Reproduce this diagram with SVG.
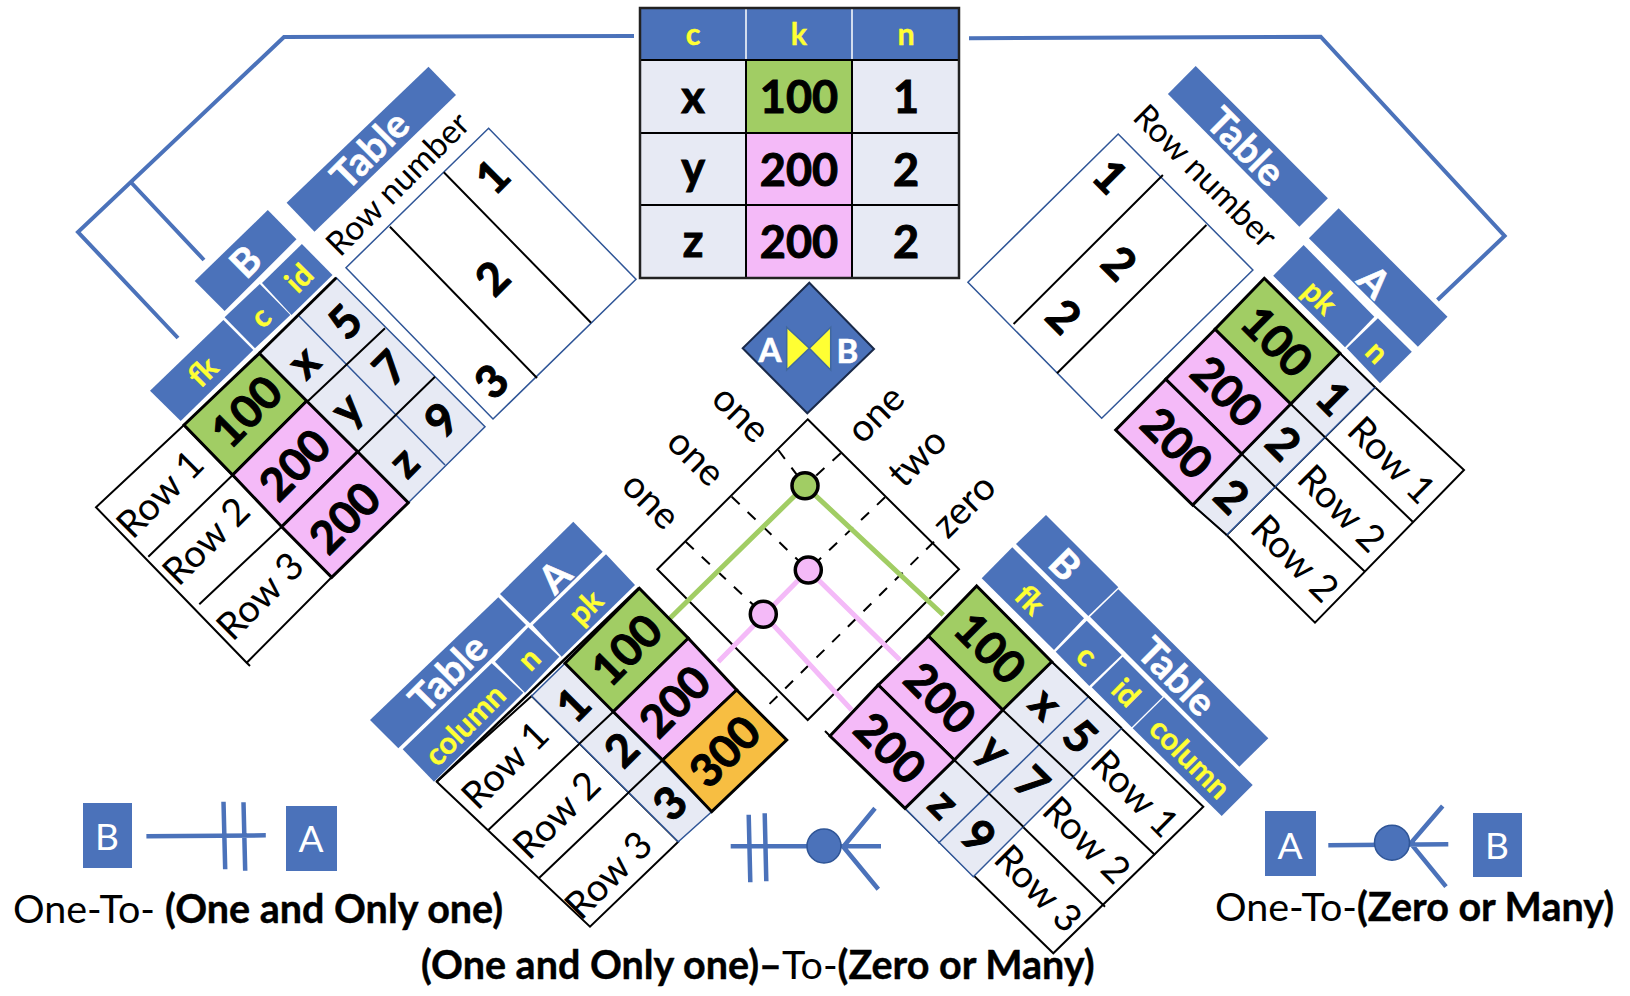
<svg xmlns="http://www.w3.org/2000/svg" width="1630" height="996" viewBox="0 0 1630 996">
<style>
text{font-family:"Lato","Open Sans","Liberation Sans",sans-serif;text-anchor:middle}
.v{font-size:45px;font-weight:700;fill:#000;stroke:#000;stroke-width:1px}
.r{font-size:38px;fill:#000}
.rn{font-size:33.500px;fill:#000}
.o{font-size:38px;fill:#000}
.h{font-size:39px;font-weight:700;fill:#fff;stroke:#fff;stroke-width:.6px}
.y{font-size:30.500px;font-weight:700;fill:#ffff33;stroke:#ffff33;stroke-width:.4px}
.t{font-size:39.500px;fill:#000;text-anchor:start}
.b{font-weight:700;stroke:#000;stroke-width:.4px}
.w{font-size:37px;fill:#fff}
.wt{fill:#fff;stroke:#000;stroke-width:2}
.wb{fill:#fff;stroke:#2f5597;stroke-width:1.5}
.lt{fill:#e7eaf4;stroke:#2f5597;stroke-width:1.5}
.gr{fill:#a1cd64;stroke:#000;stroke-width:3}
.pk{fill:#f4baf8;stroke:#000;stroke-width:3}
.or{fill:#f7be42;stroke:#000;stroke-width:3}
.ln{fill:none;stroke:#000;stroke-width:2}
.cn{fill:none;stroke:#4b72ba;stroke-width:4}
.lg{fill:none;stroke:#4b72ba;stroke-width:4.5}
.da{fill:none;stroke:#000;stroke-width:2;stroke-dasharray:11 11}
.bx{fill:#4b72ba}
</style>

<g id="connectors">
<path class="cn" d="M634 36L284 37L78 232L178 338M131.600 183L204 260"/>
<path class="cn" d="M969 38.300L1320.700 36.700L1504.600 236L1437.500 300"/>
</g>

<g id="table-center">
<rect x="640" y="8" width="319" height="52" fill="#4b72ba"/>
<path d="M746 8V60M852 8V60" stroke="#fff" stroke-width="1.500"/>
<rect x="640" y="60" width="106" height="73" fill="#e7eaf4"/><rect x="640" y="133" width="106" height="72" fill="#e7eaf4"/><rect x="640" y="205" width="106" height="73" fill="#e7eaf4"/>
<rect x="852" y="60" width="107" height="218" fill="#e7eaf4"/>
<rect x="746" y="60" width="106" height="73" fill="#a1cd64"/><rect x="746" y="133" width="106" height="145" fill="#f4baf8"/>
<path class="ln" d="M640 60H959M640 133H959M640 205H959M746 60V278M852 60V278"/>
<rect x="640" y="8" width="319" height="270" fill="none" stroke="#222" stroke-width="2.500"/>
<text class="y" x="693" y="45">c</text><text class="y" x="799" y="45">k</text><text class="y" x="906" y="45">n</text>
<text class="v" x="693" y="113">x</text><text class="v" x="799" y="113">100</text><text class="v" x="906" y="113">1</text>
<text class="v" x="693" y="184">y</text><text class="v" x="799" y="186">200</text><text class="v" x="906" y="186">2</text>
<text class="v" x="693" y="257">z</text><text class="v" x="799" y="258">200</text><text class="v" x="906" y="258">2</text>
</g>

<g id="table-left-rownum">
<path class="wb" d="M488.600 128.300L636 279.300L493 419L346 267.700Z"/>
<path class="ln" d="M443.800 172.300L591 322.700M389.900 226.700L537 378"/>
<text class="v" transform="translate(492.500 176.700) rotate(-45)" dy=".35em">1</text>
<text class="v" transform="translate(492.500 278.300) rotate(-45)" dy=".35em">2</text>
<text class="v" transform="translate(491.700 381.700) rotate(-45)" dy=".35em">3</text>
<text class="rn" transform="translate(397.600 183.700) rotate(-45)" dy=".35em">Row number</text>
</g>
<g id="table-left">
<path class="bx" d="M428.500 66.700L456 95L314.500 231.700L286.600 202.700Z"/>
<path class="bx" d="M267.800 210L296.500 239.300L224.600 311L194.700 281Z"/>
<path class="bx" d="M301.900 244L332.500 275L291.500 315L262 283Z"/>
<path class="bx" d="M259.800 284L290.400 315L255 348.300L224.600 317.300Z"/>
<path class="bx" d="M223.400 320L253.300 350L180.700 421L150 390.700Z"/>
<path class="wt" d="M184 425L96 507.300L246.700 662.700L331.700 577.300ZM246.700 662.700L250 666"/>
<path class="ln" d="M232.700 475L148.300 556.700M281.700 526.700L199.300 604.300"/>
<path class="lt" d="M259.300 353.300L336.300 277.700L485 426.700L408.300 502.700Z"/>
<path class="lt" d="M299 316L445 465" style="fill:none"/>
<path class="ln" d="M308 401L385 328.300M358 451.700L435 376.700"/>
<path d="M259.300 353.300L336.300 277.700" fill="none" stroke="#000" stroke-width="3"/>
<path class="gr" d="M259.300 353.300L306.700 401L232.700 475L184 425Z"/>
<path class="pk" d="M306.700 401L357.700 451.700L281.700 526.700L232.700 475Z"/>
<path class="pk" d="M357.700 451.700L408.300 502.700L331.700 577.300L281.700 526.700Z"/>
<text class="h" transform="translate(370 150) rotate(-45)" dy=".35em">Table</text>
<text class="h" transform="translate(245.600 261.700) rotate(-45)" dy=".35em">B</text>
<text class="y" transform="translate(299 278) rotate(-45)" dy=".35em">id</text>
<text class="y" transform="translate(261.700 318) rotate(-45)" dy=".3em">c</text>
<text class="y" transform="translate(203 371.700) rotate(-45)" dy=".35em">fk</text>
<text class="v" transform="translate(246.700 411.700) rotate(-45)" dy=".35em">100</text>
<text class="v" transform="translate(295 465) rotate(-45)" dy=".35em">200</text>
<text class="v" transform="translate(345 518) rotate(-45)" dy=".35em">200</text>
<text class="v" transform="translate(305 363.300) rotate(-45)" dy=".3em">x</text>
<text class="v" transform="translate(348 410) rotate(-45)" dy=".3em">y</text>
<text class="v" transform="translate(405 463.300) rotate(-45)" dy=".3em">z</text>
<text class="v" transform="translate(345 322) rotate(-45)" dy=".35em">5</text>
<text class="v" transform="translate(390 368) rotate(-45)" dy=".35em">7</text>
<text class="v" transform="translate(441.700 420) rotate(-45)" dy=".35em">9</text>
<text class="r" transform="translate(160 494) rotate(-45)" dy=".35em">Row 1</text>
<text class="r" transform="translate(206 541) rotate(-45)" dy=".35em">Row 2</text>
<text class="r" transform="translate(260 596) rotate(-45)" dy=".35em">Row 3</text>
</g>

<g id="table-right-rownum">
<path class="wb" d="M1118.200 134L1252.900 270L1101.700 418.300L967.900 282.300Z"/>
<path class="ln" d="M1162.900 175L1013.600 324M1206.400 225L1057 373.300"/>
<text class="v" transform="translate(1110 176.700) rotate(45)" dy=".35em">1</text>
<text class="v" transform="translate(1119 263.300) rotate(45)" dy=".35em">2</text>
<text class="v" transform="translate(1063.600 316.700) rotate(45)" dy=".35em">2</text>
<text class="rn" transform="translate(1205.400 176) rotate(45)" dy=".35em">Row number</text>
</g>
<g id="table-right">
<path class="bx" d="M1195.700 66L1327.900 198.300L1299.300 226.700L1167.900 94Z"/>
<path class="bx" d="M1338.600 208.300L1447.500 316.700L1417.900 346.700L1308.900 238.300Z"/>
<path class="bx" d="M1303.600 245L1374.300 316.700L1345 347.300L1273.200 275.700Z"/>
<path class="bx" d="M1377.900 318.300L1411.800 351.700L1380 383.300L1346.800 348.300Z"/>
<path class="wt" d="M1375 387.300L1464 470L1315 622.700L1226.700 535Z"/>
<path class="ln" d="M1325 437.300L1412.700 521.700M1275 486.700L1365 571.700"/>
<path class="lt" d="M1340 353.300L1375 387.300L1226.700 535L1192.700 505Z"/>
<path class="ln" d="M1290.700 404L1325 437.300M1241.700 454L1275 486.700M1192.700 505L1226.700 535M1340 353.300L1375 387.300"/>
<path class="gr" d="M1264.300 278.300L1340 353.300L1290.700 404L1215 329.300Z"/>
<path class="pk" d="M1215 329.300L1290.700 404L1241.700 454L1165.700 379.300Z"/>
<path class="pk" d="M1165.700 379.300L1241.700 454L1192.700 505L1115.700 430Z"/>
<text class="h" transform="translate(1245.700 146.700) rotate(45)" dy=".35em">Table</text>
<text class="h" transform="translate(1374.300 281.700) rotate(45)" dy=".35em">A</text>
<text class="y" transform="translate(1318.900 298.300) rotate(45)" dy=".3em">pk</text>
<text class="y" transform="translate(1376 353) rotate(45)" dy=".3em">n</text>
<text class="v" transform="translate(1276.700 341.700) rotate(45)" dy=".35em">100</text>
<text class="v" transform="translate(1226.700 391.700) rotate(45)" dy=".35em">200</text>
<text class="v" transform="translate(1176.700 443.300) rotate(45)" dy=".35em">200</text>
<text class="v" transform="translate(1333.300 398.300) rotate(45)" dy=".35em">1</text>
<text class="v" transform="translate(1283.300 443.300) rotate(45)" dy=".35em">2</text>
<text class="v" transform="translate(1231.700 496.700) rotate(45)" dy=".35em">2</text>
<text class="r" transform="translate(1391.700 460) rotate(45)" dy=".35em">Row 1</text>
<text class="r" transform="translate(1341.700 508.300) rotate(45)" dy=".35em">Row 2</text>
<text class="r" transform="translate(1295 558.300) rotate(45)" dy=".35em">Row 2</text>
</g>

<g id="join-diamond">
<path d="M809.300 282.700L874 349L807.300 413.300L742.700 348.300Z" fill="#4b72ba" stroke="#1a2a4a" stroke-width="2"/>
<path d="M786.700 327.300L786.700 370L809.300 348.300ZM830.700 327.300L830.700 370L809.300 348.300Z" fill="#ffff33" stroke="#41689f" stroke-width="1.500"/>
<text class="h" x="770" y="350.700" dy=".35em" style="font-size:33px">A</text>
<text class="h" x="847.300" y="351.700" dy=".35em" style="font-size:33px">B</text>
</g>

<g id="join-grid">
<path class="ln" d="M807.700 419.300L959 569.300L807.700 720L657.300 569.300Z"/>
<path class="da" d="M778.300 450L805 485.700M731.700 496.700L808.300 570M685.700 541.700L763.300 614.300"/>
<path class="da" d="M840.700 453.300L805 485.700L670 618.300M885 497.300L808.300 570L718.300 661.700M934 541.700L766.700 706.700"/>
<path d="M670 618.300L805 485.700L943.300 615" fill="none" stroke="#a1cd64" stroke-width="5"/>
<path d="M718.300 661.700L808.300 570L900 660M763.300 614.300L851.700 710" fill="none" stroke="#f4baf8" stroke-width="5"/>
<circle cx="805" cy="485.700" r="13" fill="#a1cd64" stroke="#000" stroke-width="3.500"/>
<circle cx="808.300" cy="570" r="13" fill="#f4baf8" stroke="#000" stroke-width="3.500"/>
<circle cx="763.300" cy="614.300" r="13" fill="#f4baf8" stroke="#000" stroke-width="3.500"/>
<text class="o" transform="translate(740 415) rotate(45)" dy=".3em">one</text>
<text class="o" transform="translate(695 458.300) rotate(45)" dy=".3em">one</text>
<text class="o" transform="translate(650 501.700) rotate(45)" dy=".3em">one</text>
<text class="o" transform="translate(876.700 415) rotate(-45)" dy=".3em">one</text>
<text class="o" transform="translate(918.300 458.300) rotate(-45)" dy=".3em">two</text>
<text class="o" transform="translate(965 506.700) rotate(-45)" dy=".3em">zero</text>
</g>

<g id="table-bottom-left">
<path class="bx" d="M573.300 521.700L602.700 551.700L530 623.300L500 594Z"/>
<path class="bx" d="M606 554.300L635 585L561.700 656.700L532.700 625Z"/>
<path class="bx" d="M498.300 597.300L526 625L398.300 748.300L370 720Z"/>
<path class="bx" d="M528.300 627.300L559.300 656.700L525 692.700L495 661.700Z"/>
<path class="bx" d="M491.700 663.300L523.300 692.700L434 781.700L402.700 749.300Z"/>
<path class="wt" d="M531.700 696L436.700 781.700L590 926.700L678.300 841.700Z"/>
<path class="ln" d="M613.300 711.700L488.300 830M662.700 760L539.300 877.700"/>
<path class="lt" d="M565 663.300L531.700 696L678.300 841.700L711.700 811.700Z"/>
<path class="ln" d="M613.300 711.700L579 744M662.700 760L628 793"/>
<path class="gr" d="M639.300 588.300L688.300 638.300L613.300 711.700L565 663.300Z"/>
<path class="pk" d="M688.300 638.300L736.700 690L662.700 760L613.300 711.700Z"/>
<path class="or" d="M736.700 690L786.700 740L711.700 811.700L662.700 760Z"/>
<path d="M639 588L436.700 781.700" stroke="#000" stroke-width="2.500" fill="none"/>
<text class="h" transform="translate(555 576.700) rotate(-45)" dy=".35em">A</text>
<text class="y" transform="translate(586.700 608.300) rotate(-45)" dy=".3em">pk</text>
<text class="h" transform="translate(448.300 673.300) rotate(-45)" dy=".35em">Table</text>
<text class="y" transform="translate(530 660) rotate(-45)" dy=".3em">n</text>
<text class="y" transform="translate(465 725) rotate(-45)" dy=".35em">column</text>
<text class="v" transform="translate(626.700 650) rotate(-45)" dy=".35em">100</text>
<text class="v" transform="translate(675 701.700) rotate(-45)" dy=".35em">200</text>
<text class="v" transform="translate(725 751.700) rotate(-45)" dy=".35em">300</text>
<text class="v" transform="translate(573.300 705) rotate(-45)" dy=".35em">1</text>
<text class="v" transform="translate(621.700 750) rotate(-45)" dy=".35em">2</text>
<text class="v" transform="translate(670 803.300) rotate(-45)" dy=".35em">3</text>
<text class="r" transform="translate(505 765) rotate(-45)" dy=".35em">Row 1</text>
<text class="r" transform="translate(556.700 815) rotate(-45)" dy=".35em">Row 2</text>
<text class="r" transform="translate(608.300 875) rotate(-45)" dy=".35em">Row 3</text>
</g>

<g id="table-bottom-right">
<path class="bx" d="M1046 515L1118.300 587.300L1088.300 616L1016 544Z"/>
<path class="bx" d="M1012.300 547.300L1084 618.300L1054 650L981.700 578.300Z"/>
<path class="bx" d="M1118.300 589.300L1268.300 738.300L1239.300 766.700L1090 616.700Z"/>
<path class="bx" d="M1086.700 620.700L1121.700 655L1089.300 686L1055.700 651.700Z"/>
<path class="bx" d="M1122.700 656.700L1162.700 696.700L1131.700 727.300L1091.700 687.300Z"/>
<path class="bx" d="M1164 697.300L1252.700 785L1221.700 816L1132.700 728.300Z"/>
<path class="wt" d="M1051.700 661.700L1203.300 806.700L1053.300 953.300L905 808.300Z"/>
<path class="ln" d="M1002.700 710L1155 855M954.300 760L1105 906.700"/>
<path class="lt" d="M1051.700 661.700L1121.700 728.300L973.300 876.700L905 808.300Z"/>
<path class="lt" d="M1088.300 696.700L938.300 843.300" style="fill:none"/>
<path class="ln" d="M1002.700 710L1073.300 776.700M954.300 760L1023.300 826.700M1051.700 661.700L1121.700 728.300M830 736L825 731"/>
<path class="gr" d="M976.700 586L1051.700 661.700L1002.700 710L928.300 636Z"/>
<path class="pk" d="M928.300 636L1002.700 710L954.300 760L878.300 685Z"/>
<path class="pk" d="M878.300 685L954.300 760L905 808.300L830 736Z"/>
<text class="h" transform="translate(1065 565) rotate(45)" dy=".35em">B</text>
<text class="y" transform="translate(1030 600) rotate(45)" dy=".35em">fk</text>
<text class="h" transform="translate(1176.700 676.700) rotate(45)" dy=".35em">Table</text>
<text class="y" transform="translate(1086 656.700) rotate(45)" dy=".3em">c</text>
<text class="y" transform="translate(1126 692.700) rotate(45)" dy=".35em">id</text>
<text class="y" transform="translate(1190 758.300) rotate(45)" dy=".35em">column</text>
<text class="v" transform="translate(990 648.300) rotate(45)" dy=".35em">100</text>
<text class="v" transform="translate(940 698.300) rotate(45)" dy=".35em">200</text>
<text class="v" transform="translate(890 748.300) rotate(45)" dy=".35em">200</text>
<text class="v" transform="translate(1044.300 705) rotate(45)" dy=".3em">x</text>
<text class="v" transform="translate(993.300 751.700) rotate(45)" dy=".3em">y</text>
<text class="v" transform="translate(942.700 805) rotate(45)" dy=".3em">z</text>
<text class="v" transform="translate(1080 736.700) rotate(45)" dy=".35em">5</text>
<text class="v" transform="translate(1031.700 783.300) rotate(45)" dy=".35em">7</text>
<text class="v" transform="translate(978.300 836.700) rotate(45)" dy=".35em">9</text>
<text class="r" transform="translate(1135 793.300) rotate(45)" dy=".35em">Row 1</text>
<text class="r" transform="translate(1086.700 840) rotate(45)" dy=".35em">Row 2</text>
<text class="r" transform="translate(1038.300 888.300) rotate(45)" dy=".35em">Row 3</text>
</g>

<g id="legend-left">
<rect class="bx" x="83" y="803" width="49" height="65"/>
<rect class="bx" x="286" y="806" width="51" height="65"/>
<text class="w" x="107" y="836.700" dy=".35em">B</text>
<text class="w" x="311" y="839" dy=".35em">A</text>
<path class="lg" d="M146.400 836.300L265.800 835.300M223.500 801.700L225.200 869.300M243.500 802.300L245.200 870.700"/>
<text class="t" x="13" y="923">One-To- <tspan class="b">(One and Only one)</tspan></text>
</g>
<g id="legend-center">
<path class="lg" d="M730.700 846.300H881M748.700 814.700L750.300 882.300M764.700 813.300L766.300 881.300M843.300 846.700L875 808.300M843.300 846.700L878.300 889.300"/>
<circle cx="824" cy="846" r="17" fill="#4b72ba" stroke="#2f5597" stroke-width="1.500"/>
<text class="t" x="421" y="979"><tspan class="b">(One and Only one)–</tspan>To-<tspan class="b">(Zero or Many)</tspan></text>
</g>
<g id="legend-right">
<rect class="bx" x="1265" y="811" width="51" height="65"/>
<rect class="bx" x="1473" y="813" width="49" height="64"/>
<text class="w" x="1290" y="846" dy=".35em">A</text>
<text class="w" x="1497" y="846" dy=".35em">B</text>
<path class="lg" d="M1328.300 845.300L1448.300 844.300M1410.700 843.300L1442.700 806M1410.700 843.300L1446 886.700"/>
<circle cx="1392" cy="842.700" r="17.500" fill="#4b72ba" stroke="#2f5597" stroke-width="1.500"/>
<text class="t" x="1215" y="921">One-To-<tspan class="b">(Zero or Many)</tspan></text>
</g>
</svg>
